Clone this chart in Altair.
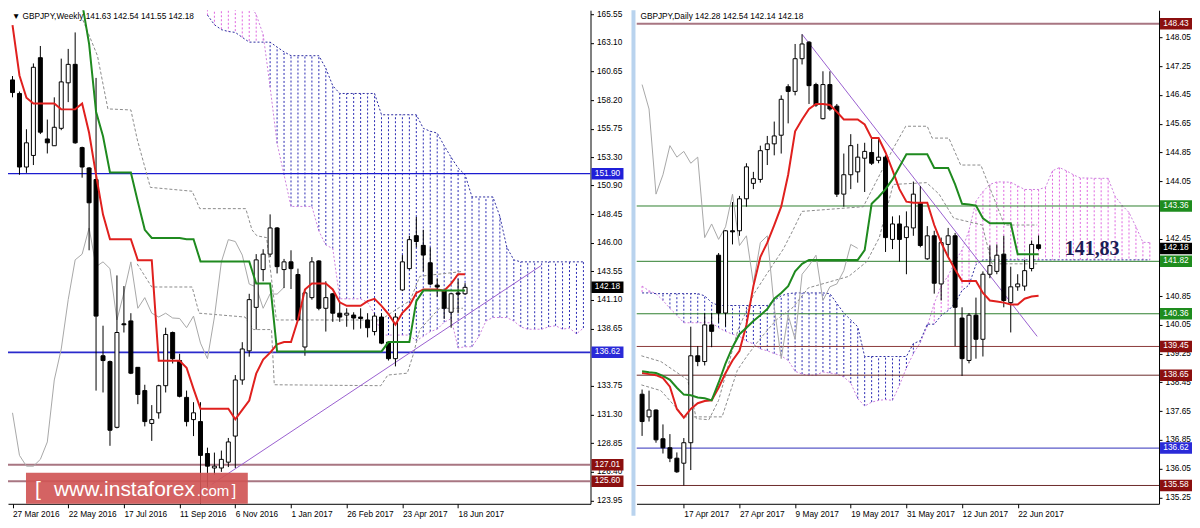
import altair as alt
import pandas as pd
import numpy as np

FONT = "Liberation Sans"
FS = 8.3

# ======================= WEEKLY (left) =======================
W_OPEN = [159.92, 158.76, 152.47, 153.46, 161.82, 154.87, 154.29, 155.78, 159.67, 161.25,
          154.13, 152.39, 151.40, 136.33, 135.83, 130.21, 139.06, 139.31, 135.34, 133.35,
          130.54, 131.45, 133.77, 138.32, 135.92, 132.77, 130.87, 130.70, 127.97, 126.73,
          126.73, 127.23, 129.46, 134.26, 136.75, 140.47, 143.70, 145.02, 147.26, 143.70,
          144.36, 143.28, 137.08, 141.30, 144.44, 140.39, 141.63, 139.97, 139.81, 139.81,
          139.64, 139.39, 138.40, 139.64, 137.49, 136.08, 141.96, 143.78, 146.60, 145.77,
          144.28, 142.37, 141.88, 140.05, 141.70, 141.63]
W_HIGH = [160.25, 158.93, 155.70, 161.33, 162.82, 156.53, 158.43, 161.74, 162.57, 163.98,
          154.21, 152.47, 160.09, 138.90, 135.92, 143.20, 142.29, 139.97, 135.34, 133.85,
          132.11, 133.85, 138.73, 138.40, 136.50, 133.35, 132.36, 132.36, 128.47, 128.05,
          128.22, 129.30, 134.68, 137.49, 141.63, 145.02, 145.44, 148.42, 147.34, 144.61,
          145.35, 143.78, 142.04, 144.77, 144.50, 142.70, 141.70, 140.88, 140.39, 140.05,
          140.39, 139.97, 139.97, 139.97, 137.55, 139.97, 144.94, 146.59, 148.20, 147.10,
          145.60, 142.95, 141.95, 141.71, 142.87, 142.54]
W_LOW = [158.43, 151.81, 151.97, 152.64, 155.29, 153.63, 154.29, 155.62, 158.02, 154.46,
         151.56, 145.35, 133.35, 133.19, 128.63, 130.12, 138.32, 134.76, 132.19, 130.29,
         129.05, 130.95, 133.19, 135.67, 132.77, 130.29, 129.46, 122.40, 125.07, 126.15,
         126.40, 126.81, 126.73, 133.85, 136.25, 138.57, 142.70, 144.77, 143.37, 142.12,
         142.04, 139.31, 136.33, 141.13, 140.22, 138.40, 139.23, 139.23, 138.81, 138.57,
         138.65, 137.90, 138.07, 137.32, 135.92, 135.42, 141.88, 143.70, 145.60, 143.53,
         142.37, 141.38, 139.48, 138.73, 139.97, 141.55]
W_CLOSE = [158.84, 152.47, 154.54, 161.00, 155.45, 154.54, 155.87, 159.75, 161.25, 154.54,
           152.47, 149.41, 139.72, 135.92, 129.96, 138.32, 138.98, 134.84, 133.02, 130.70,
           130.87, 133.77, 138.15, 136.08, 132.86, 130.70, 131.45, 127.81, 126.89, 126.89,
           127.47, 128.96, 134.26, 136.91, 141.13, 144.53, 145.02, 147.26, 143.95, 144.36,
           143.78, 139.39, 141.71, 144.36, 140.39, 141.30, 139.97, 139.64, 139.97, 139.56,
           139.52, 138.73, 139.72, 137.41, 136.08, 139.64, 144.36, 146.26, 146.10, 144.94,
           142.46, 142.21, 140.39, 141.63, 141.60, 142.18]
W_TENKAN = [164.6, 160.3, 158.4, 157.9, 157.9, 157.9, 157.9, 157.4, 157.4, 157.4,
            157.9, 155.4, 151.8, 148.4, 146.3, 146.3, 146.3, 146.3, 144.5, 144.5,
            144.5, 135.9, 135.9, 135.9, 135.9, 135.3, 133.5, 131.8, 131.8, 131.8,
            131.8, 131.8, 130.9, 131.7, 132.5, 134.8, 136.0, 136.6, 137.3, 137.5,
            137.5, 139.4, 142.0, 142.5, 142.5, 142.5, 142.0, 140.9, 140.6, 140.6,
            140.6, 141.0, 141.2, 140.6, 139.9, 139.0, 140.0, 140.6, 141.7, 142.0,
            142.0, 142.0, 141.9, 142.5, 143.3, 143.3]
W_KIJUN = [172.0, 172.0, 172.0, 171.5, 171.0, 170.5, 170.0, 169.5, 169.0, 168.5,
           166.5, 163.0, 157.2, 155.1, 152.0, 152.0, 152.0, 152.0, 149.5, 147.1,
           146.4, 146.4, 146.4, 146.4, 146.4, 146.3, 146.3, 144.4, 144.4, 144.4,
           144.4, 144.4, 144.4, 144.4, 144.4, 142.5, 142.5, 142.5, 136.7, 136.7,
           136.7, 136.7, 136.7, 136.7, 136.7, 136.7, 136.7, 136.7, 136.7, 136.7,
           136.7, 136.7, 136.7, 136.7, 137.5, 137.5, 137.5, 137.5, 141.0, 141.9,
           141.9, 141.9, 141.9, 141.9, 141.9, 141.9]
W_CLOUD_START = 28
W_SPAN_A = [168.0, 167.8, 167.5, 167.2, 167.0, 166.8, 166.5, 165.5, 163.8,
            159.3, 154.5, 151.8, 149.1, 149.1, 149.1, 149.1, 147.0, 145.8, 145.5,
            141.2, 141.2, 141.2, 141.2, 140.9, 139.9, 138.1, 138.1, 138.1, 138.1,
            138.1, 137.6, 138.0, 138.4, 138.6, 139.2, 139.5, 137.0, 137.1, 137.1,
            138.0, 139.3, 139.6, 139.6, 139.6, 139.3, 138.8, 138.6, 138.6, 138.6,
            138.8, 138.9, 138.6, 138.7, 138.2, 138.7]
W_SPAN_B = [165.47, 164.64, 164.22, 164.06, 163.98, 163.56, 163.15, 163.15, 163.15,
            163.15, 162.73, 162.32, 161.99, 161.99, 161.99, 161.99, 161.99, 160.91, 159.42,
            158.76, 158.76, 158.76, 158.76, 158.76, 158.76, 156.94, 156.94, 156.94, 156.94,
            156.94, 156.94, 155.78, 155.53, 155.37, 154.29, 153.30, 152.39, 151.81, 149.91,
            149.91, 149.91, 149.91, 148.25, 145.60, 144.53, 144.36, 144.36, 144.36, 144.36,
            144.36, 144.36, 144.36, 144.36, 144.36, 144.36]
W_DASH1_X = [10.1, 12.2, 13.7, 17.0, 17.9, 19.8, 25.8, 26.9, 33.5, 34.4, 35.1, 36.5, 37.9, 52.9, 54.3, 57.1, 58.5, 64.5]
W_DASH1_Y = [165.05, 161.99, 157.44, 157.35, 154.87, 150.73, 150.40, 148.91, 148.91, 147.09, 146.59, 146.43,
             139.39, 139.39, 139.97, 141.05, 143.12, 143.53]
W_DASH2_X = [17.9, 20.0, 25.8, 26.8, 33.4, 34.6, 37.2, 37.6, 52.9, 53.9, 56.7, 57.5, 58.5, 61.3, 64.7]
W_DASH2_Y = [144.19, 142.21, 142.21, 139.97, 139.64, 138.57, 138.57, 133.85, 133.77, 134.68, 134.84,
             136.33, 138.57, 140.39, 140.39]
W_TREND_X = [28.6, 75.9]
W_TREND_Y = [125.32, 144.03]
W_TICK_IDX = [0, 8, 16, 24, 32, 40, 48, 56, 64]
W_TICK_LABELS = ["27 Mar 2016", "22 May 2016", "17 Jul 2016", "11 Sep 2016", "6 Nov 2016",
                 "1 Jan 2017", "26 Feb 2017", "23 Apr 2017", "18 Jun 2017"]
W_PRICE_TICKS = [165.55, 163.10, 160.65, 158.20, 155.75, 153.30, 150.90, 148.45, 146.00,
                 143.55, 141.10, 138.65, 133.75, 131.30, 128.85, 126.40, 123.95]
W_LEVELS = [151.90, 136.62, 127.01, 125.60]
W_LEVEL_COLORS = ["#1c1cd0", "#2a2acc", "#a87682", "#a87682"]
W_LEVEL_WIDTHS = [1.2, 1.6, 2.0, 2.0]
W_LABEL_VALUES = [151.90, 136.62, 127.01, 125.60, 142.18]
W_LABEL_COLORS = ["#1f1fd8", "#2a2ad8", "#8b0f0f", "#8b0f0f", "#000000"]
W_XDOM = [0.07, 82.3]
W_YDOM = [123.67, 165.88]
W_TITLE = "\u25bc GBPJPY,Weekly  141.63 142.54 141.55 142.18"

# ======================= DAILY (right) =======================
D_START = -6
D_OPEN = [138.12, 137.49, 137.68, 136.88, 136.63, 136.34, 136.20, 136.77, 139.19, 139.03,
          140.05, 141.99, 140.38, 142.67, 142.67, 143.56, 143.99, 144.10, 144.93, 145.09,
          145.33, 146.68, 146.55, 147.46, 147.92, 146.74, 145.79, 146.74, 146.14, 143.69,
          144.23, 144.31, 144.69, 144.85, 144.63, 144.72, 142.43, 142.86, 142.48, 142.75,
          143.45, 141.89, 142.53, 141.19, 142.29, 142.53, 140.24, 139.06, 140.32, 139.65,
          141.46, 141.54, 142.02, 140.67, 141.11, 141.13, 141.62, 142.28]
D_HIGH = [138.25, 138.22, 137.70, 137.28, 137.01, 136.50, 136.90, 140.00, 139.46, 140.38,
          140.38, 142.05, 142.69, 143.47, 143.64, 144.55, 144.31, 145.04, 145.31, 145.71,
          146.44, 146.75, 147.87, 148.14, 147.95, 146.79, 147.11, 147.11, 146.20, 144.82,
          145.36, 145.09, 145.12, 145.25, 145.25, 144.77, 143.07, 143.10, 143.21, 144.04,
          143.91, 142.80, 142.67, 142.48, 142.75, 142.61, 140.54, 140.38, 140.81, 141.54,
          142.26, 142.29, 142.53, 141.67, 141.46, 141.86, 142.40, 142.54]
D_LOW = [136.96, 137.36, 136.77, 136.47, 136.23, 135.93, 135.58, 136.01, 138.90, 138.92,
         139.43, 140.11, 140.00, 142.29, 142.53, 143.34, 143.83, 144.01, 144.50, 144.77,
         144.82, 145.66, 146.44, 147.30, 146.20, 146.12, 145.77, 146.01, 143.61, 143.34,
         143.83, 144.01, 143.75, 144.50, 144.55, 142.08, 142.16, 141.81, 141.46, 142.53,
         142.21, 141.86, 140.92, 140.73, 141.94, 139.46, 138.63, 138.98, 139.11, 139.17,
         141.35, 141.46, 140.54, 139.84, 141.00, 141.00, 141.54, 142.14]
D_CLOSE = [137.36, 137.68, 136.85, 136.63, 136.34, 135.96, 136.77, 139.19, 139.03, 140.05,
           139.87, 140.38, 142.67, 142.64, 143.56, 144.45, 144.12, 144.90, 145.09, 145.31,
           146.33, 146.55, 147.46, 147.87, 146.71, 146.17, 146.74, 146.06, 143.69, 144.23,
           145.04, 144.72, 144.88, 144.55, 144.72, 142.48, 142.86, 142.43, 142.78, 143.69,
           142.26, 142.53, 141.21, 142.34, 142.53, 140.54, 139.11, 140.32, 139.65, 141.46,
           141.70, 141.99, 140.73, 141.11, 141.19, 141.56, 142.29, 142.18]
D_TENKAN = [138.71, 138.68, 138.65, 138.57, 138.33, 137.71, 137.47, 137.71, 137.87, 137.93,
            137.95, 138.30, 138.71, 139.06, 139.33, 140.05, 141.13, 141.94, 142.34, 142.83,
            143.34, 144.23, 145.44, 145.77, 146.06, 146.20, 146.20, 146.17, 145.98, 145.77,
            145.77, 145.77, 145.63, 145.25, 145.25, 144.85, 144.36, 143.83, 143.48, 143.45,
            143.45, 143.45, 142.83, 142.34, 141.94, 141.59, 141.27, 141.27, 141.27, 140.94,
            140.73, 140.70, 140.67, 140.62, 140.62, 140.78, 140.84, 140.86]
D_KIJUN = [138.76, 138.73, 138.71, 138.63, 138.52, 138.30, 138.11, 138.09, 138.03, 138.01,
           137.95, 138.44, 138.98, 139.43, 139.79, 139.97, 140.16, 140.32, 140.49, 140.78,
           140.94, 141.13, 141.54, 141.75, 141.86, 141.86, 141.86, 141.86, 141.86, 141.86,
           141.86, 141.86, 142.13, 143.42, 143.61, 143.83, 144.10, 144.45, 144.80, 144.80,
           144.80, 144.80, 144.42, 144.42, 144.42, 143.96, 143.42, 143.40, 143.37, 143.02,
           142.88, 142.88, 142.88, 142.88, 142.02, 142.02, 142.02, 142.02]
D_SPAN_A = [141.13, 141.00, 140.92, 140.73, 140.51, 140.32, 140.11, 140.11, 140.11, 140.11,
            140.11, 139.97, 139.87, 139.79, 139.73, 139.60, 139.52, 139.38, 139.33, 139.25,
            139.19, 139.06, 138.76, 138.68, 138.65, 138.65,
            138.74, 138.71, 138.68, 138.60, 138.43, 138.00, 137.79, 137.90, 137.95, 137.97,
            137.95, 138.37, 138.85, 139.25, 139.56, 140.01, 140.65, 141.13, 141.42, 141.81,
            142.14, 142.68, 143.49, 143.76, 143.96, 144.03, 144.03, 144.02, 143.92, 143.82,
            143.82, 143.82, 143.88, 144.34, 144.43, 144.34, 144.23, 144.14, 144.14, 144.13,
            144.13, 144.13, 143.63, 143.38, 143.18, 142.78, 142.35, 142.34]
D_SPAN_B = [140.94, 140.94, 140.92, 140.92, 140.92, 140.92, 140.92, 140.92, 140.92, 140.86,
            140.67, 140.59, 140.59, 140.59, 140.59, 140.59, 140.59, 140.59, 140.59, 140.73,
            140.86, 140.92, 140.94, 140.94, 140.94, 140.94, 140.94, 140.92, 140.65, 140.38,
            140.19, 140.00, 139.17, 139.17, 139.17, 139.17, 139.17, 139.17, 139.17, 139.53,
            139.61, 140.07, 140.07, 140.31, 140.45, 140.65, 141.01, 141.16, 141.73, 141.86,
            141.86, 141.86, 141.86, 141.86, 141.86, 141.86, 141.86, 141.86, 141.86, 141.86,
            141.86, 141.86, 141.86, 141.86, 141.86, 141.86, 141.86, 141.86, 141.86, 141.86,
            141.86, 141.86, 141.86, 141.86]
D_DASH1_X = [-6.1, -3.3, 0.55, 1.8, 3.6, 5.0, 7.8, 10.1, 11.9, 14.3, 15.7, 17.0, 25.8, 30.1, 31.9,
             35.0, 35.7, 38.1, 39.8, 42.7, 43.9, 46.1, 50.8]
D_DASH1_Y = [139.19, 139.03, 138.52, 137.44, 137.41, 137.95, 139.92, 140.92, 141.46, 142.16, 142.69,
             143.21, 143.34, 144.96, 145.58, 145.58, 145.25, 145.25, 144.50, 144.50, 143.91, 142.83, 142.83]
D_DASH2_X = [-6.1, -3.3, 0.1, 5.5, 7.7, 9.1, 10.9, 13.3, 15.7, 17.9, 23.7, 26.3, 28.1, 30.1, 34.9,
             36.7, 38.8, 42.9, 44.3, 50.8]
D_DASH2_Y = [138.38, 138.22, 137.49, 137.49, 138.79, 139.19, 139.65, 140.19, 140.54, 141.08, 141.40,
             141.81, 142.48, 143.96, 144.01, 143.69, 143.02, 142.83, 141.75, 141.75]
D_TREND_X = [17.0, 50.8]
D_TREND_Y = [148.14, 139.73]
D_TICK_IDX = [0, 8, 16, 24, 32, 40, 48]
D_TICK_LABELS = ["17 Apr 2017", "27 Apr 2017", "9 May 2017", "19 May 2017", "31 May 2017",
                 "12 Jun 2017", "22 Jun 2017"]
D_PRICE_TICKS = [148.05, 147.25, 146.45, 145.65, 144.85, 144.05, 142.45,
                 140.85, 140.05, 139.25, 138.45, 137.65, 136.85, 136.05, 135.25]
D_LEVELS = [148.43, 143.36, 141.82, 140.36, 139.45, 138.65, 136.62, 135.58]
D_LEVEL_COLORS = ["#a87682", "#2f7f2f", "#2f7f2f", "#2f7f2f", "#8b3a3a", "#6b2a2a", "#5a5ac8", "#6b2a2a"]
D_LEVEL_WIDTHS = [2.0, 1.0, 1.0, 1.0, 1.0, 1.0, 1.2, 1.0]
D_LABEL_VALUES = [148.43, 143.36, 141.82, 140.36, 139.45, 138.65, 136.62, 135.58, 142.18]
D_LABEL_COLORS = ["#8b0f0f", "#1e8c1e", "#1e8c1e", "#1e8c1e", "#8b0f0f", "#8b0f0f", "#2a2ad8",
                  "#8b0f0f", "#000000"]
D_XDOM = [-6.09, 67.6]
D_YDOM = [135.07, 148.81]
D_TITLE = "GBPJPY,Daily  142.28 142.54 142.14 142.18"
D_NOTE = "141,83"
D_NOTE_POS = [58.7, 142.16]

RED = "#e0201e"
GREEN = "#1f8a1f"
GREY = "#a8a8a8"
DASHGREY = "#8c8c8c"
BLUE_HATCH = "#2a2ab4"
PINK_HATCH = "#e066e0"
TREND = "#9a5fd0"

BOX = "M-1,-0.36L1,-0.36L1,0.36L-1,0.36Z"


def panel(W, H, xdom, ydom, start, o, h, l, c, tenkan, kijun, cloud_start, span_a, span_b,
          d1x, d1y, d2x, d2y, trx, tr_y, levels, lcols, lwid, labvals, labcols,
          xticks, xlabels, yticks, title, bar_size, border=False):
    xs = alt.Scale(domain=xdom, nice=False, zero=False)
    ys = alt.Scale(domain=ydom, nice=False, zero=False)
    expr = "[" + ",".join("'%s'" % s for s in xlabels) + "][round(datum.value/8)]"
    xaxis = alt.Axis(values=xticks, labelExpr=expr, labelAlign="left", labelPadding=2, tickSize=4,
                     domainColor="black", tickColor="black", labelColor="black", labelFont=FONT,
                     labelFontSize=FS, grid=False, title=None, labelFlush=False, labelOverlap=False)
    yaxis = alt.Axis(orient="right", values=yticks, format=".2f", tickSize=3, labelPadding=3,
                     domainColor="black", tickColor="black", labelColor="black", labelFont=FONT,
                     labelFontSize=FS, grid=False, title=None, labelFlush=False, labelOverlap=False)

    n = len(o)
    cdf = pd.DataFrame({"i": list(range(start, start + n)), "o": o, "h": h, "l": l, "c": c})
    cdf["fill"] = np.where(cdf["c"] >= cdf["o"], "white", "black")
    ldf = pd.DataFrame({"i": list(range(start, start + n)), "t": tenkan, "k": kijun})
    chik = pd.DataFrame({"i": list(range(start, start + n - 26)), "v": c[26:]})
    m = len(span_a)
    cl = pd.DataFrame({"i": list(range(cloud_start, cloud_start + m)), "a": span_a, "b": span_b})
    cl["col"] = np.where(cl["a"] > cl["b"], PINK_HATCH, BLUE_HATCH)
    d1 = pd.DataFrame({"x": d1x, "y": d1y})
    d2 = pd.DataFrame({"x": d2x, "y": d2y})
    tr = pd.DataFrame({"x": trx, "y": tr_y})
    lv = pd.DataFrame({"v": levels, "col": lcols, "w": lwid})
    lb = pd.DataFrame({"v": labvals, "col": labcols, "txt": ["%.2f" % v for v in labvals]})

    X = lambda f: alt.X(f, type="quantitative", scale=xs, axis=xaxis)
    Y = lambda f: alt.Y(f, type="quantitative", scale=ys, axis=yaxis)

    hatch = alt.Chart(cl).mark_rule(strokeDash=[2, 2], strokeWidth=1, clip=True).encode(
        x=X("i"), y=Y("a"), y2="b", color=alt.Color("col:N", scale=None))
    la = alt.Chart(cl).mark_line(strokeDash=[2, 2], strokeWidth=1, color="#cc80dd", clip=True).encode(
        x=X("i"), y=Y("a"))
    lbn = alt.Chart(cl).mark_line(strokeDash=[2, 2], strokeWidth=1, color="#2c2ca0", clip=True).encode(
        x=X("i"), y=Y("b"))
    lev = alt.Chart(lv).mark_rule(clip=True).encode(
        y=Y("v"), color=alt.Color("col:N", scale=None), strokeWidth=alt.StrokeWidth("w:Q", scale=None))
    dash1 = alt.Chart(d1).mark_line(strokeDash=[3, 2], strokeWidth=1, color=DASHGREY, clip=True).encode(
        x=X("x"), y=Y("y"))
    dash2 = alt.Chart(d2).mark_line(strokeDash=[3, 2], strokeWidth=1, color=DASHGREY, clip=True).encode(
        x=X("x"), y=Y("y"))
    chl = alt.Chart(chik).mark_line(strokeWidth=1, color=GREY, clip=True).encode(x=X("i"), y=Y("v"))
    trl = alt.Chart(tr).mark_line(strokeWidth=1, color=TREND, clip=True).encode(x=X("x"), y=Y("y"))
    wick = alt.Chart(cdf).mark_rule(color="black", strokeWidth=1, clip=True).encode(
        x=X("i"), y=Y("l"), y2="h")
    body = alt.Chart(cdf).mark_bar(size=bar_size, stroke="black", strokeWidth=1, clip=True).encode(
        x=X("i"), y=Y("o"), y2="c", fill=alt.Fill("fill:N", scale=None))
    tk = alt.Chart(ldf).mark_line(strokeWidth=2, color=RED, clip=True).encode(x=X("i"), y=Y("t"))
    kj = alt.Chart(ldf).mark_line(strokeWidth=2, color=GREEN, clip=True).encode(x=X("i"), y=Y("k"))
    boxes = alt.Chart(lb).mark_point(shape=BOX, size=1024, filled=True, opacity=1, strokeWidth=0).encode(
        x=alt.value(W + 17), y=Y("v"), color=alt.Color("col:N", scale=None))
    btxt = alt.Chart(lb).mark_text(color="white", font=FONT, fontSize=FS, align="center",
                                   baseline="middle").encode(
        x=alt.value(W + 17), y=Y("v"), text="txt:N")
    ttl = alt.Chart(pd.DataFrame({"t": [title]})).mark_text(
        align="left", baseline="middle", font=FONT, fontSize=FS, color="black").encode(
        x=alt.value(4), y=alt.value(7), text="t:N")

    layers = [hatch, la, lbn, lev, dash1, dash2, chl, trl, wick, body, tk, kj, boxes, btxt, ttl]
    if border:
        bd = alt.Chart(pd.DataFrame({"a": [0]})).mark_rule(color="#b9d3ee", strokeWidth=4).encode(
            x=alt.value(-3), y=alt.value(0), y2=alt.value(H + 12))
        layers.append(bd)
    return layers, xs, ys, X, Y


WL, WR, HH = 583, 523, 494

left_layers, _, _, _, _ = panel(
    WL, HH, W_XDOM, W_YDOM, 0, W_OPEN, W_HIGH, W_LOW, W_CLOSE, W_TENKAN, W_KIJUN,
    W_CLOUD_START, W_SPAN_A, W_SPAN_B, W_DASH1_X, W_DASH1_Y, W_DASH2_X, W_DASH2_Y,
    W_TREND_X, W_TREND_Y, W_LEVELS, W_LEVEL_COLORS, W_LEVEL_WIDTHS,
    W_LABEL_VALUES, W_LABEL_COLORS, W_TICK_IDX, W_TICK_LABELS, W_PRICE_TICKS,
    W_TITLE, 4)

wm = pd.DataFrame({"a": [0]})
wm_box = alt.Chart(wm).mark_rect(color="#d05656", opacity=0.92).encode(
    x=alt.value(18), x2=alt.value(240), y=alt.value(463), y2=alt.value(494))
wm_t1 = alt.Chart(wm).mark_text(text="[", color="white", font=FONT, fontSize=21, align="left",
                                baseline="alphabetic").encode(x=alt.value(27), y=alt.value(486))
wm_t2 = alt.Chart(wm).mark_text(text="www.instaforex", color="white", font=FONT, fontSize=21,
                                align="left", baseline="alphabetic").encode(x=alt.value(46), y=alt.value(486))
wm_t3 = alt.Chart(wm).mark_text(text=".com", color="white", font=FONT, fontSize=15, align="left",
                                baseline="alphabetic").encode(x=alt.value(189), y=alt.value(486))
wm_t4 = alt.Chart(wm).mark_text(text="]", color="white", font=FONT, fontSize=16, align="left",
                                baseline="alphabetic").encode(x=alt.value(224), y=alt.value(486))

left = alt.layer(*left_layers, wm_box, wm_t1, wm_t2, wm_t3, wm_t4).properties(width=WL, height=HH)

right_layers, d_xs, d_ys, DX, DY = panel(
    WR, HH, D_XDOM, D_YDOM, D_START, D_OPEN, D_HIGH, D_LOW, D_CLOSE, D_TENKAN, D_KIJUN,
    D_START, D_SPAN_A, D_SPAN_B, D_DASH1_X, D_DASH1_Y, D_DASH2_X, D_DASH2_Y,
    D_TREND_X, D_TREND_Y, D_LEVELS, D_LEVEL_COLORS, D_LEVEL_WIDTHS,
    D_LABEL_VALUES, D_LABEL_COLORS, D_TICK_IDX, D_TICK_LABELS, D_PRICE_TICKS,
    D_TITLE, 4, border=True)
note = alt.Chart(pd.DataFrame({"t": [D_NOTE], "xx": [D_NOTE_POS[0]], "yy": [D_NOTE_POS[1]]})).mark_text(
    font="Liberation Serif", fontSize=20, fontWeight="bold", color="#1c1c55",
    align="center", baseline="middle").encode(x=DX("xx"), y=DY("yy"), text="t:N")

right = alt.layer(*right_layers, note).properties(width=WR, height=HH)

chart = alt.hconcat(left, right, spacing=8).properties(padding=0).configure_view(stroke=None)
chart.save("out.html", embed_options={"renderer": "svg", "actions": False})
